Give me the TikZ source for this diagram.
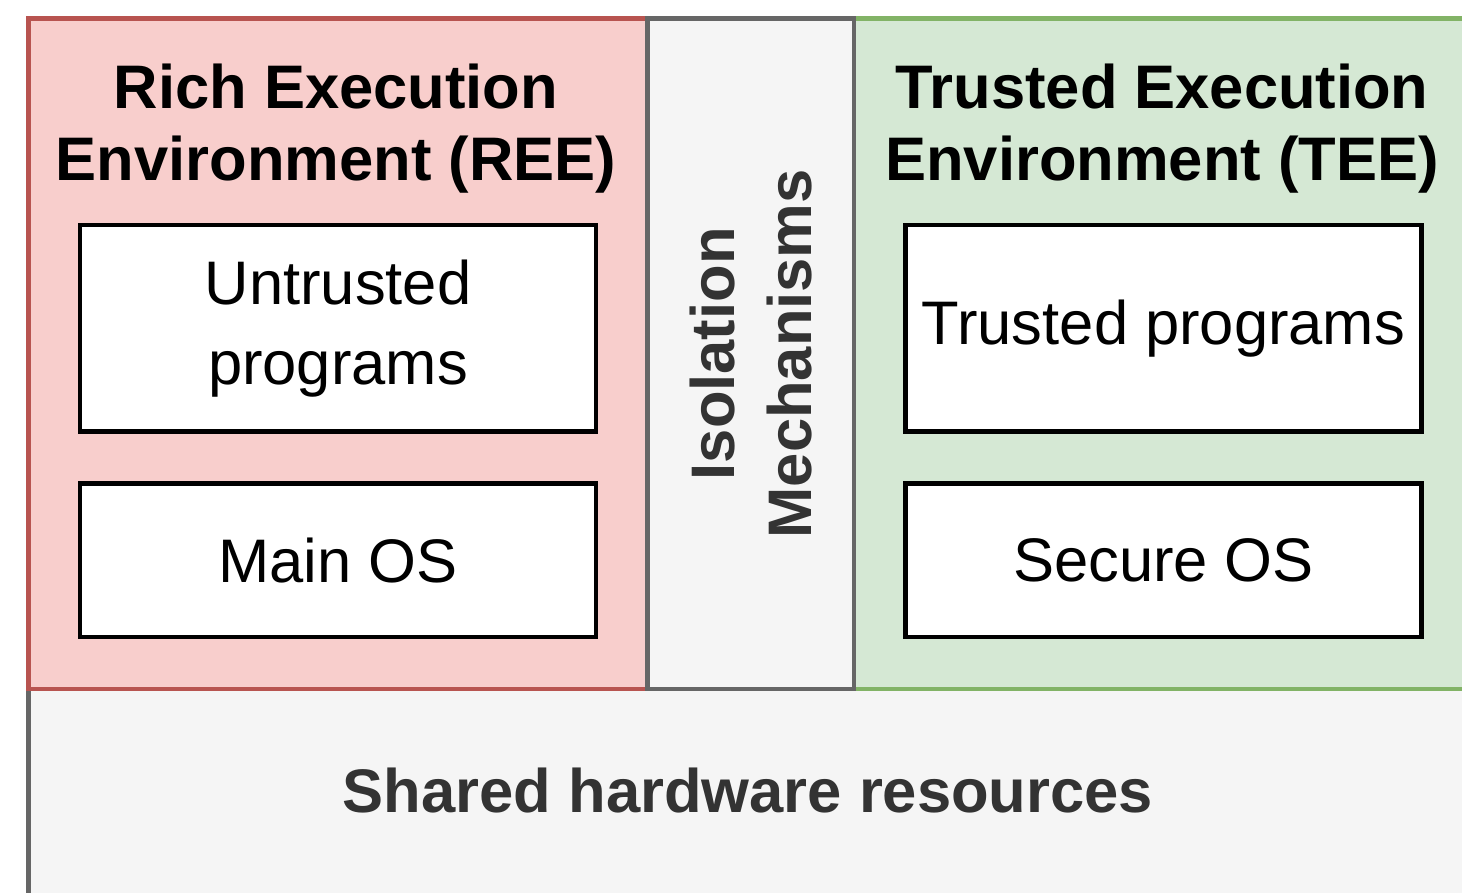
\documentclass[tikz,border=0pt]{standalone}
\usepackage{fontspec}
\setmainfont{Liberation Sans}
\usepackage{xcolor}
\usepackage{tikz}

\definecolor{reeline}{HTML}{B85450}
\definecolor{reefill}{HTML}{F8CECC}
\definecolor{teeline}{HTML}{82B366}
\definecolor{teefill}{HTML}{D5E8D4}
\definecolor{isoline}{HTML}{666666}
\definecolor{isofill}{HTML}{F5F5F5}
\definecolor{isotext}{HTML}{333333}

\begin{document}
\begin{tikzpicture}[
envbox/.style={draw,line width=1.15pt,inner sep=0pt,minimum width=6.19cm,minimum height=6.705cm},
progbox/.style={draw=black,fill=white,line width=1.2pt,inner sep=0pt,minimum width=5.16cm,align=center,
  font=\fontsize{17.5}{22.8}\selectfont},
envtitle/.style={align=center,font=\bfseries\fontsize{17.5}{20.5}\selectfont}
]
\clip (0,0) rectangle (14.62,-8.92);

% The shared hardware
\node[draw=isoline,fill=isofill,line width=1.15pt,inner sep=0pt,minimum width=14.395cm,minimum height=2.3cm]
  (hw) at (7.4825,-8.04) {};
\node[text=isotext,font=\bfseries\fontsize{17.5}{20.5}\selectfont] (hwtext) at (7.48,-7.90) {Shared hardware resources};

% The two environments
\node[envbox,draw=reeline,fill=reefill] (ree) at (3.38,-3.5375) {};
\node[envbox,draw=teeline,fill=teefill] (tee) at (11.635,-3.5375) {};
\node[draw=isoline,fill=isofill,line width=1.15pt,inner sep=0pt,minimum width=2.065cm,minimum height=6.705cm]
  (iso) at (7.5075,-3.5375) {};
\node[rotate=90,align=center,text=isotext,font=\bfseries\fontsize{17.5}{21.9}\selectfont] (isotext) at (iso.center)
  {Isolation\\Mechanisms};

% The labels
\node[envtitle] (reetitle) at (3.36,-1.29) {Rich Execution\\Environment (REE)};
\node[envtitle] (teetitle) at (11.62,-1.29) {Trusted Execution\\Environment (TEE)};

% The programs and systems
\node[progbox,minimum height=2.065cm] (untrusted) at (3.38,-3.2825) {Untrusted\\programs};
\node[progbox,minimum height=1.535cm] (mainos) at (3.38,-5.6025) {Main OS};
\node[progbox,minimum height=2.065cm] (trusted) at (11.635,-3.2825) {Trusted programs};
\node[progbox,minimum height=1.535cm] (secureos) at (11.635,-5.6025) {Secure OS};
\end{tikzpicture}
\end{document}
